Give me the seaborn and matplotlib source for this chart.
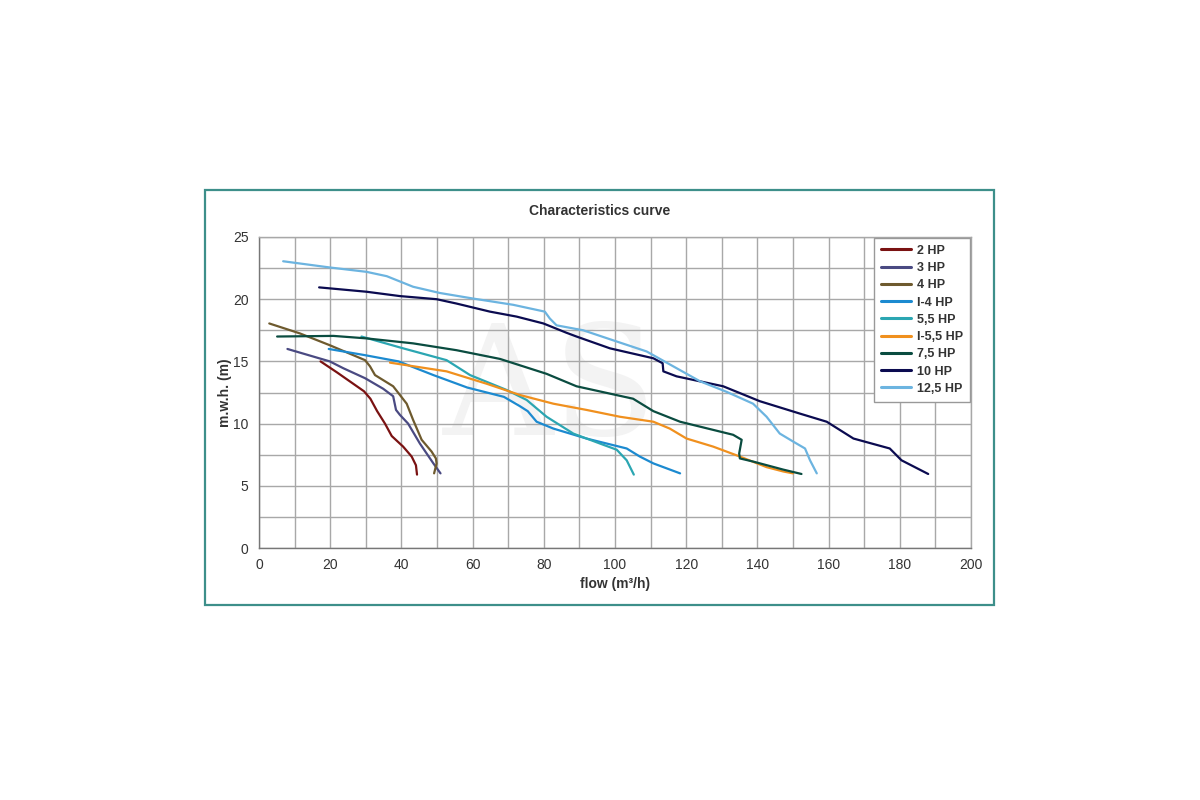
import numpy as np
import pandas as pd
import matplotlib
matplotlib.use("Agg")
import matplotlib.pyplot as plt
import seaborn as sns
from matplotlib.patches import Rectangle

# ---- data (flow m3/h, head m.w.h.) ----
hp2_x = [17.3, 22, 26, 29.5, 31.3, 33.2, 35.4, 37.3, 40.5, 42.9, 44.1, 44.4]
hp2_y = [15.0, 14.1, 13.3, 12.6, 12.0, 11.0, 10.0, 9.0, 8.15, 7.35, 6.65, 5.9]

hp3_x = [8.0, 19.9, 23.7, 29.8, 34.9, 37.7, 38.5, 39.6, 41.9, 45.2, 49.0, 51.0]
hp3_y = [16.0, 15.0, 14.45, 13.65, 12.8, 12.2, 11.1, 10.7, 10.0, 8.4, 6.8, 6.0]

hp4_x = [2.9, 11.5, 19.9, 29.8, 31.2, 32.6, 37.7, 41.5, 43.3, 45.7, 48.5, 49.7, 49.9, 49.2]
hp4_y = [18.05, 17.25, 16.3, 15.1, 14.6, 13.9, 13.0, 11.6, 10.3, 8.7, 7.75, 7.2, 6.8, 6.0]

i4_x = [19.6, 29.8, 39.2, 49.0, 58.5, 68.8, 73.3, 75.5, 78.0, 82.7, 92.0, 103.3, 107.0, 110.8, 118.3]
i4_y = [16.0, 15.5, 15.0, 13.9, 12.9, 12.15, 11.4, 11.0, 10.15, 9.6, 8.8, 8.0, 7.35, 6.8, 6.0]

hp55_x = [28.8, 40.5, 52.7, 59.3, 69.6, 75.2, 80.8, 88.3, 96.7, 100.5, 103.3, 105.3]
hp55_y = [17.0, 16.05, 15.1, 13.9, 12.7, 11.9, 10.55, 9.2, 8.3, 7.9, 7.05, 5.9]

i55_x = [36.8, 52.7, 64.0, 73.3, 82.7, 92.0, 101.4, 110.8, 115.4, 120.1, 127.6, 135.1, 142.6, 147.3, 150.0]
i55_y = [14.9, 14.2, 13.2, 12.3, 11.6, 11.1, 10.55, 10.15, 9.6, 8.8, 8.15, 7.35, 6.5, 6.15, 6.0]

hp75_x = [5.1, 20.9, 30.2, 43.3, 55.5, 67.7, 80.8, 89.2, 105.1, 110.8, 118.3, 133.2, 135.6, 134.9, 135.1, 138.8, 147.3, 152.4]
hp75_y = [17.0, 17.05, 16.85, 16.45, 15.9, 15.2, 14.0, 13.0, 12.0, 11.0, 10.15, 9.1, 8.7, 7.6, 7.2, 6.95, 6.3, 5.95]

hp10_x = [16.9, 30.2, 39.6, 49.9, 55.5, 64.9, 72.4, 79.9, 86.4, 89.2, 98.6, 110.8, 113.4, 113.6, 117.3, 130.4, 140.7, 152.0, 159.5, 167.0, 177.2, 180.5, 188.0]
hp10_y = [20.95, 20.6, 20.25, 20.0, 19.65, 19.0, 18.6, 18.05, 17.3, 17.0, 16.05, 15.25, 14.85, 14.2, 13.8, 13.0, 11.8, 10.8, 10.15, 8.8, 8.0, 7.05, 5.95]

hp125_x = [6.8, 19.9, 30.2, 35.9, 43.3, 50.8, 60.2, 71.4, 80.3, 81.7, 83.6, 91.1, 100.5, 108.9, 116.4, 123.9, 131.4, 138.8, 142.6, 146.3, 150.1, 153.4, 154.8, 156.7]
hp125_y = [23.05, 22.55, 22.2, 21.85, 21.0, 20.5, 20.05, 19.55, 19.0, 18.45, 17.9, 17.5, 16.6, 15.8, 14.6, 13.4, 12.55, 11.6, 10.55, 9.2, 8.55, 8.0, 7.05, 6.0]

series_names = ["2 HP", "3 HP", "4 HP", "I-4 HP", "5,5 HP", "I-5,5 HP", "7,5 HP", "10 HP", "12,5 HP"]
series_x = [hp2_x, hp3_x, hp4_x, i4_x, hp55_x, i55_x, hp75_x, hp10_x, hp125_x]
series_y = [hp2_y, hp3_y, hp4_y, i4_y, hp55_y, i55_y, hp75_y, hp10_y, hp125_y]
series_colors = ["#7a1212", "#4a4a82", "#6e5a2e", "#1c8ad0", "#2ba6b2", "#f0901e", "#0a4c40", "#0b0b50", "#6cb4e0"]

x_ticks = [0, 20, 40, 60, 80, 100, 120, 140, 160, 180, 200]
y_ticks = [0, 5, 10, 15, 20, 25]

rows = []
for name, xs, ys in zip(series_names, series_x, series_y):
    for i, (a, b) in enumerate(zip(xs, ys)):
        rows.append({"series": name, "flow": a, "head": b, "order": i})
df = pd.DataFrame(rows)

sns.set_theme(style="white")
plt.rcParams["font.family"] = ["Liberation Sans", "DejaVu Sans"]

fig = plt.figure(figsize=(12, 8), dpi=100)
fig.patch.set_facecolor("white")

# outer teal frame
fig.patches.append(Rectangle((0.171, 0.244), 0.657, 0.519, transform=fig.transFigure,
                             fill=False, edgecolor="#3d8f8a", linewidth=1.6))

ax = fig.add_axes([0.2158, 0.315, 0.5933, 0.38875])

# faint watermark
ax.text(82, 12.5, "AS", fontsize=110, color="#f3f3f3", family="DejaVu Serif",
        ha="center", va="center", zorder=0)

sns.lineplot(data=df, x="flow", y="head", hue="series", hue_order=series_names,
             palette=dict(zip(series_names, series_colors)), sort=False,
             estimator=None, units="series", linewidth=1.6, ax=ax, zorder=3)

ax.set_xlim(0, 200)
ax.set_ylim(0, 25)
ax.set_xticks(x_ticks)
ax.set_yticks(y_ticks)
ax.set_xticks(np.arange(0, 201, 10), minor=True)
ax.set_yticks(np.arange(0, 25.1, 2.5), minor=True)
ax.grid(which="both", color="#a8a8a8", linewidth=1.0, zorder=1)
ax.set_axisbelow(True)
for s in ["top", "right"]:
    ax.spines[s].set_color("#a8a8a8")
    ax.spines[s].set_linewidth(1.0)
for s in ["left", "bottom"]:
    ax.spines[s].set_color("#777777")
    ax.spines[s].set_linewidth(1.0)
ax.tick_params(axis="both", which="major", length=4, width=0.8, color="#777777",
               labelsize=10, labelcolor="#333333", direction="out")
ax.tick_params(axis="both", which="minor", length=0)

ax.set_xlabel("flow (m³/h)", fontsize=10, fontweight="bold", color="#333333", labelpad=3)
ax.set_ylabel("m.w.h. (m)", fontsize=10, fontweight="bold", color="#333333", labelpad=1)

fig.text(0.5, 0.736, "Characteristics curve", ha="center", va="center",
         fontsize=10, fontweight="bold", color="#333333")

leg = ax.legend(loc="upper right", bbox_to_anchor=(0.9985, 0.997), fontsize=9,
                frameon=True, fancybox=False, handlelength=2.4, handletextpad=0.5,
                labelspacing=0.42, borderpad=0.55, borderaxespad=0.0)
leg.get_frame().set_edgecolor("#999999")
leg.get_frame().set_linewidth(1.0)
leg.get_frame().set_alpha(1)
for t in leg.get_texts():
    t.set_fontweight("bold")
    t.set_color("#333333")
for l in leg.get_lines():
    l.set_linewidth(2.2)

fig.savefig("out.png", dpi=100, facecolor="white")
